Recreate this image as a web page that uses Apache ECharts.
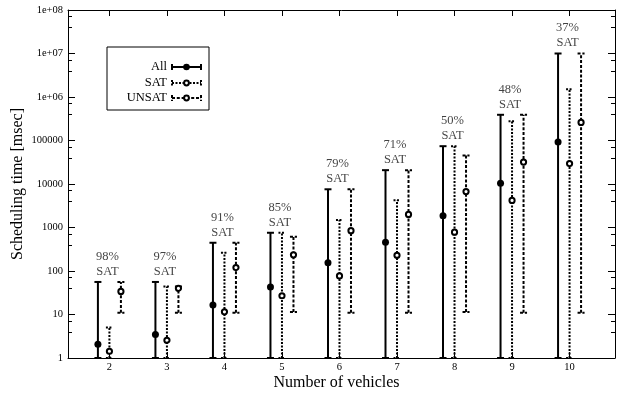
<!DOCTYPE html>
<html>
<head>
<meta charset="utf-8">
<script src="https://cdn.jsdelivr.net/npm/echarts@6/dist/echarts.min.js"></script>
<style>html,body{margin:0;padding:0;background:#fff}#c{width:618px;height:395px}</style>
</head>
<body>
<div id="c"></div>
<script>
// ---- data ----
const categories = [2, 3, 4, 5, 6, 7, 8, 9, 10];
const satPercent = [98, 97, 91, 85, 79, 71, 50, 48, 37];
const yTicks = [1, 10, 100, 1000, 10000, 100000, 1e6, 1e7, 1e8];

const allLow  = [1, 1, 1, 1, 1, 1, 1, 1, 1];
const allMid  = [2.07, 3.46, 16.5, 43, 154, 460, 1870, 10400, 92000];
const allHigh = [56, 56, 446, 757, 7560, 20800, 74000, 390000, 1.0e7];

const satLow  = [1, 1, 1, 1, 1, 1, 1, 1, 1];
const satMid  = [1.43, 2.56, 11.5, 27, 77, 230, 780, 4200, 29500];
const satHigh = [5, 44, 262, 757, 1480, 4240, 74000, 276000, 1.5e6];

const unsatLow  = [11, 11, 11, 11.4, 11, 11, 11.4, 11, 11];
const unsatMid  = [34, 40, 120, 235, 845, 2000, 6700, 32000, 260000];
const unsatHigh = [56, 44, 446, 612, 7560, 20800, 45000, 390000, 1.0e7];

// ---- chart ----
const FONT = 'Liberation Serif';
const chart = echarts.init(document.getElementById('c'), null, {renderer: 'canvas'});

function errSeries(name, low, mid, high, offset, dash, filled) {
  return {
    type: 'custom',
    name: name,
    xAxisIndex: 0, yAxisIndex: 0,
    silent: true,
    encode: {x: 0, y: [1, 2, 3]},
    data: categories.map((c, i) => [c, low[i], mid[i], high[i]]),
    renderItem: function (params, api) {
      const x = api.value(0) + offset;
      const pl = api.coord([x, api.value(1)]);
      const pm = api.coord([x, api.value(2)]);
      const ph = api.coord([x, api.value(3)]);
      const cw = 3.5;
      const ls = {stroke: '#000', lineWidth: 2, lineDash: dash, fill: null};
      return {
        type: 'group',
        children: [
          {type: 'line', shape: {x1: pl[0], y1: pl[1], x2: ph[0], y2: ph[1]}, style: ls},
          {type: 'line', shape: {x1: ph[0] - cw, y1: ph[1], x2: ph[0] + cw, y2: ph[1]}, style: ls},
          {type: 'line', shape: {x1: pl[0] - cw, y1: pl[1], x2: pl[0] + cw, y2: pl[1]}, style: ls},
          filled
            ? {type: 'circle', shape: {cx: pm[0], cy: pm[1], r: 3.5}, style: {fill: '#000'}}
            : {type: 'circle', shape: {cx: pm[0], cy: pm[1], r: 2.6}, style: {fill: '#fff', stroke: '#000', lineWidth: 2}}
        ]
      };
    }
  };
}

function logLabel(v) {
  const e = Math.round(Math.log10(v));
  if (e >= 6) return '1e+' + String(e).padStart(2, '0');
  return String(Math.round(v));
}

const xCommon = {
  type: 'value', min: 1.28, max: 10.79,
  axisLine: {show: true, lineStyle: {color: '#000', width: 1}},
  axisTick: {show: true, inside: true, length: 6, customValues: categories, lineStyle: {color: '#000'}},
  splitLine: {show: false}
};
const yCommon = {
  type: 'log', logBase: 10, min: 1, max: 1e8,
  axisLine: {show: true, lineStyle: {color: '#000', width: 1}},
  axisTick: {show: true, inside: true, length: 7, customValues: yTicks, lineStyle: {color: '#000'}},
  minorTick: {show: true, splitNumber: 3, length: 4, lineStyle: {color: '#000'}},
  splitLine: {show: false}, minorSplitLine: {show: false}
};

function legendItem(y, label, dash) {
  const x1 = 172, x2 = 201, xm = (x1 + x2) / 2, cw = 3;
  const ls = {stroke: '#000', lineWidth: 2, lineDash: dash, fill: null};
  return [
    {type: 'text', z: 20, x: 167, y: y, style: {text: label, font: '12.5px "Liberation Serif"', fill: '#000', align: 'right', verticalAlign: 'middle'}},
    {type: 'line', z: 20, shape: {x1: x1, y1: y, x2: x2, y2: y}, style: ls},
    {type: 'line', z: 20, shape: {x1: x1, y1: y - cw, x2: x1, y2: y + cw}, style: ls},
    {type: 'line', z: 20, shape: {x1: x2, y1: y - cw, x2: x2, y2: y + cw}, style: ls},
    dash === 'solid'
      ? {type: 'circle', z: 21, shape: {cx: xm, cy: y, r: 3.3}, style: {fill: '#000'}}
      : {type: 'circle', z: 21, shape: {cx: xm, cy: y, r: 2.4}, style: {fill: '#fff', stroke: '#000', lineWidth: 2}}
  ];
}

chart.setOption({
  animation: false,
  backgroundColor: '#fff',
  grid: {left: 68, right: 3, top: 10, bottom: 37, show: false, containLabel: false, outerBoundsMode: 'none'},
  xAxis: [
    Object.assign({}, xCommon, {
      position: 'bottom',
      name: 'Number of vehicles', nameLocation: 'middle', nameGap: 17, nameMoveOverlap: false,
      nameTextStyle: {fontFamily: FONT, fontSize: 16, color: '#000', padding: [0, 10, 0, 0]},
      axisLabel: {show: true, customValues: categories, margin: 4, fontFamily: FONT, fontSize: 10.5, color: '#000'}
    }),
    Object.assign({}, xCommon, {position: 'top', axisLabel: {show: false}})
  ],
  yAxis: [
    Object.assign({}, yCommon, {
      position: 'left',
      name: 'Scheduling time [msec]', nameLocation: 'middle', nameGap: 42, nameMoveOverlap: false,
      nameTextStyle: {fontFamily: FONT, fontSize: 16, color: '#000'},
      axisLabel: {show: true, customValues: yTicks, margin: 5, fontFamily: FONT, fontSize: 10.5, color: '#000', formatter: logLabel}
    }),
    Object.assign({}, yCommon, {position: 'right', axisLabel: {show: false}})
  ],
  series: [
    errSeries('All', allLow, allMid, allHigh, -0.2, 'solid', true),
    errSeries('SAT', satLow, satMid, satHigh, 0, [2, 1.5], false),
    errSeries('UNSAT', unsatLow, unsatMid, unsatHigh, 0.2, [3, 1.8], false),
    {
      type: 'scatter', silent: true, symbolSize: 0,
      xAxisIndex: 0, yAxisIndex: 0,
      data: categories.map((c, i) => [c, allHigh[i]]),
      label: {
        show: true, position: 'top', distance: 3, offset: [-2, 0],
        fontFamily: FONT, fontSize: 12.5, lineHeight: 15, color: '#111',
        formatter: p => satPercent[p.dataIndex] + '%\nSAT'
      },
      emphasis: {disabled: true}
    }
  ],
  graphic: [].concat(
    [{type: 'rect', z: 19, shape: {x: 107, y: 47, width: 102, height: 63}, style: {fill: '#fff', stroke: '#000', lineWidth: 1}}],
    legendItem(67, 'All', 'solid'),
    legendItem(83, 'SAT', [2, 1.5]),
    legendItem(98, 'UNSAT', [3, 1.8])
  )
});
</script>
</body>
</html>
